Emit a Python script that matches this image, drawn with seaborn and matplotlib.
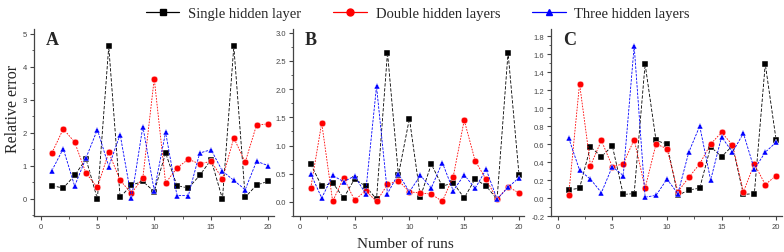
import pandas as pd
import seaborn as sns
import matplotlib.pyplot as plt
from matplotlib.lines import Line2D
from matplotlib.ticker import MultipleLocator

runs = list(range(1, 21))
models = ["Single hidden layer", "Double hidden layers", "Three hidden layers"]

# panel A
a_single = [0.40, 0.33, 0.71, 1.21, 0.00, 4.62, 0.05, 0.42, 0.53, 0.22,
            1.39, 0.40, 0.33, 0.71, 1.19, 0.00, 4.62, 0.05, 0.42, 0.53]
a_double = [1.39, 2.12, 1.72, 0.78, 0.35, 1.41, 0.56, 0.17, 0.64, 3.64,
            0.48, 0.94, 1.20, 1.06, 1.14, 0.61, 1.85, 1.11, 2.24, 2.27]
a_three = [0.86, 1.52, 0.39, 1.24, 2.10, 0.98, 1.95, 0.02, 2.19, 0.25,
           2.02, 0.10, 0.10, 1.39, 1.49, 0.84, 0.56, 0.28, 1.14, 1.01]

# panel B
b_single = [0.67, 0.28, 0.34, 0.07, 0.41, 0.28, 0.05, 2.65, 0.48, 1.48,
            0.09, 0.67, 0.28, 0.34, 0.07, 0.41, 0.28, 0.05, 2.65, 0.48]
b_double = [0.25, 1.40, 0.01, 0.43, 0.03, 0.20, 0.01, 0.31, 0.38, 0.18,
            0.16, 0.14, 0.01, 0.45, 1.45, 0.73, 0.40, 0.05, 0.27, 0.16]
b_three = [0.50, 0.07, 0.47, 0.36, 0.46, 0.15, 2.05, 0.15, 0.50, 0.18,
           0.47, 0.25, 0.70, 0.20, 0.48, 0.24, 0.58, 0.05, 0.26, 0.43]

# panel C
c_single = [0.09, 0.11, 0.57, 0.46, 0.58, 0.04, 0.05, 1.49, 0.64, 0.60,
            0.03, 0.09, 0.11, 0.57, 0.46, 0.58, 0.04, 0.05, 1.49, 0.64]
c_double = [0.03, 1.27, 0.36, 0.64, 0.35, 0.38, 0.65, 0.11, 0.60, 0.55,
            0.07, 0.23, 0.38, 0.60, 0.73, 0.59, 0.07, 0.38, 0.15, 0.25]
c_three = [0.67, 0.31, 0.21, 0.06, 0.35, 0.25, 1.69, 0.01, 0.03, 0.21,
           0.05, 0.51, 0.80, 0.20, 0.68, 0.51, 0.72, 0.32, 0.51, 0.62]

colors = ["#000000", "#ff0000", "#0000ff"]
markers = ["s", "o", "^"]


def make_df(single, double, three):
    df = pd.DataFrame({"run": runs, models[0]: single,
                       models[1]: double, models[2]: three})
    return df.melt(id_vars="run", var_name="model", value_name="error")


sns.set_theme(style="ticks")
plt.rcParams["font.family"] = ["Liberation Sans", "DejaVu Sans"]

fig = plt.figure(figsize=(7.84, 2.53), dpi=100)
boxes = [[0.043, 0.142, 0.306, 0.74],
         [0.374, 0.142, 0.295, 0.74],
         [0.703, 0.142, 0.294, 0.74]]
panels = [("A", make_df(a_single, a_double, a_three), (-0.52, 5.15), 1, 0.5),
          ("B", make_df(b_single, b_double, b_three), (-0.25, 3.07), 0.5, 0.25),
          ("C", make_df(c_single, c_double, c_three), (-0.2, 1.88), 0.2, 0.1)]

for box, (letter, df, ylim, major, minor) in zip(boxes, panels):
    ax = fig.add_axes(box)
    sns.lineplot(data=df, x="run", y="error", hue="model", style="model",
                 palette=colors, markers=markers,
                 dashes=[(4, 2), (2, 1.5), (3, 1.5)],
                 markersize=4.8, markeredgewidth=0.3, linewidth=0.6,
                 errorbar=None, legend=False, ax=ax)
    ax.set_xlim(-0.6, 20.5)
    ax.set_ylim(*ylim)
    ax.xaxis.set_major_locator(MultipleLocator(5))
    ax.xaxis.set_minor_locator(MultipleLocator(2.5))
    ax.yaxis.set_major_locator(MultipleLocator(major))
    ax.yaxis.set_minor_locator(MultipleLocator(minor))
    if letter == "A":
        ax.yaxis.set_major_formatter(lambda v, p: f"{v:.0f}")
    else:
        ax.yaxis.set_major_formatter(lambda v, p: f"{v:.1f}")
    ax.tick_params(which="major", direction="out", length=3, width=0.8,
                   labelsize=5.5, labelcolor="#444444", color="#444444", pad=2)
    ax.tick_params(which="minor", direction="out", length=1.8, width=0.6,
                   color="#444444")
    ax.set_xlabel("")
    ax.set_ylabel("")
    sns.despine(ax=ax)
    for s in ["left", "bottom"]:
        ax.spines[s].set_color("#444444")
        ax.spines[s].set_linewidth(0.9)
    ax.text(0.05, 0.99, letter, transform=ax.transAxes, ha="left", va="top",
            fontsize=13, fontweight="bold", family="Liberation Serif")

handles = [Line2D([], [], color=c, marker=m, markersize=5, linewidth=0.9)
           for c, m in zip(colors, markers)]
fig.legend(handles, models, loc="upper center", bbox_to_anchor=(0.533, 1.02),
           ncol=3, frameon=False, handlelength=2.3, columnspacing=2.2,
           handletextpad=0.6,
           prop={"family": "Liberation Serif", "size": 10.5})

fig.text(0.016, 0.57, "Relative error", rotation=90, ha="center",
         va="center", fontsize=11.5, family="Liberation Serif")
fig.text(0.517, 0.035, "Number of runs", ha="center", va="center",
         fontsize=11, family="Liberation Serif")

fig.savefig("out.png", dpi=100)
